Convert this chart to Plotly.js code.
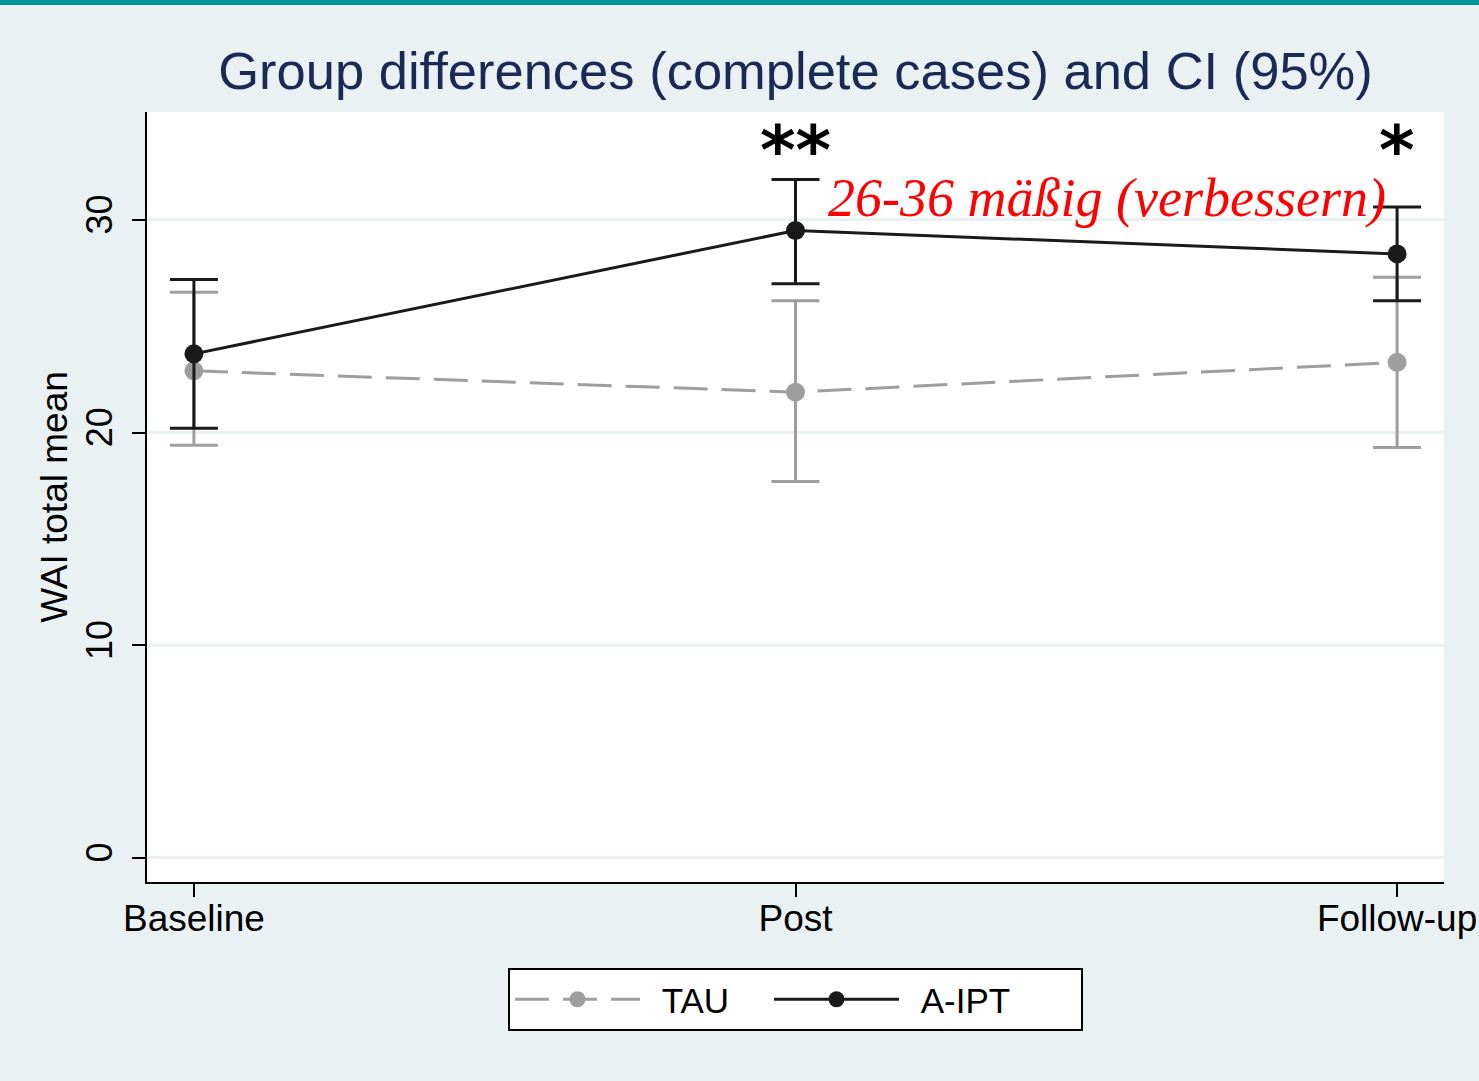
<!DOCTYPE html>
<html>
<head>
<meta charset="utf-8">
<script src="https://cdn.plot.ly/plotly-3.0.1.min.js"></script>
<style>
html,body{margin:0;padding:0;background:#EAF1F3;}
#chart{width:1479px;height:1081px;}
</style>
</head>
<body>
<div id="chart"></div>
<script>
const categories = ["Baseline", "Post", "Follow-up"];
const tauMean = [22.9, 21.9, 23.3];
const tauLow = [19.4, 17.7, 19.3];
const tauHigh = [26.6, 26.2, 27.3];
const aiptMean = [23.7, 29.5, 28.4];
const aiptLow = [20.2, 27.0, 26.2];
const aiptHigh = [27.2, 31.9, 30.6];
const yTicks = [0, 10, 20, 30];
const seriesNames = ["TAU", "A-IPT"];

const gray = "#9E9E9E";
const black = "#1A1A1A";
const pad = "\u00A0\u2009";

function plus(m, h){ return m.map((v,i)=>h[i]-v); }
function minus(m, l){ return m.map((v,i)=>v-l[i]); }

const traces = [
  {
    x: categories, y: tauMean, name: pad + seriesNames[0], type: "scatter", mode: "lines+markers",
    line: {color: gray, width: 3, dash: "34px,14px"},
    marker: {color: gray, size: 19}, legendwidth: 119,
    error_y: {type: "data", symmetric: false, array: plus(tauMean, tauHigh), arrayminus: minus(tauMean, tauLow),
              color: gray, thickness: 3, width: 24}
  },
  {
    x: categories, y: aiptMean, name: pad + seriesNames[1], type: "scatter", mode: "lines+markers",
    line: {color: black, width: 3},
    marker: {color: black, size: 19}, legendwidth: 172,
    error_y: {type: "data", symmetric: false, array: plus(aiptMean, aiptHigh), arrayminus: minus(aiptMean, aiptLow),
              color: black, thickness: 3, width: 24}
  }
];

const layout = {
  width: 1479, height: 1081,
  paper_bgcolor: "#EAF1F3",
  plot_bgcolor: "#FFFFFF",
  margin: {l: 147, r: 35, t: 112, b: 199},
  font: {family: "Liberation Sans, Arial, sans-serif", color: "#000000"},
  title: {text: "Group differences (complete cases) and CI (95%)", font: {size: 52.5, color: "#1A2A57"},
          x: 0.5, xref: "paper", xanchor: "center", y: 1 - 71/1081, yref: "container", yanchor: "middle"},
  xaxis: {
    type: "category", range: [-0.078, 2.078],
    showline: true, linecolor: "#000000", linewidth: 2,
    ticks: "outside", ticklen: 13, tickwidth: 2, tickcolor: "#000000",
    tickfont: {size: 37}, showgrid: false, zeroline: false,
    ticklabelstandoff: -10
  },
  yaxis: {
    range: [-1.13, 35.07], tickvals: yTicks, ticktext: yTicks.map(String),
    tickangle: -90,
    showline: true, linecolor: "#000000", linewidth: 2,
    ticks: "outside", ticklen: 13, tickwidth: 2, tickcolor: "#000000",
    tickfont: {size: 36}, ticklabelstandoff: 6,
    showgrid: true, gridcolor: "#EAF1F3", gridwidth: 3, zeroline: false,
    title: {text: "WAI total mean", font: {size: 37}, standoff: 0}
  },
  showlegend: true,
  legend: {
    orientation: "h", x: 0.5, xanchor: "center", y: -0.1117, yanchor: "top",
    bgcolor: "#FFFFFF", bordercolor: "#000000", borderwidth: 2,
    font: {size: 35}, itemwidth: 125
  },
  annotations: [
    {x: "Post", y: 33.25, xref: "x", yref: "y", text: "**", showarrow: false,
     font: {family: "DejaVu Sans", size: 68, color: "#000000", weight: "bold"}, yanchor: "middle"},
    {x: "Follow-up", y: 33.25, xref: "x", yref: "y", text: "*", showarrow: false,
     font: {family: "DejaVu Sans", size: 68, color: "#000000", weight: "bold"}, yanchor: "middle"},
    {x: 1.051, y: 31.05, xref: "x", yref: "y", text: "<i>26-36 mäßig (verbessern)</i>", showarrow: false,
     xanchor: "left", yanchor: "middle",
     font: {family: "Liberation Serif, serif", size: 54, color: "#FF0000"}}
  ],
  shapes: [
    {type: "rect", xref: "paper", yref: "paper", x0: -0.2, x1: 1.2, y0: 1 + 107/770, y1: 1 + 113/770,
     fillcolor: "#009999", line: {width: 0}, layer: "above"}
  ]
};

Plotly.newPlot("chart", traces, layout, {displayModeBar: false});
</script>
</body>
</html>
